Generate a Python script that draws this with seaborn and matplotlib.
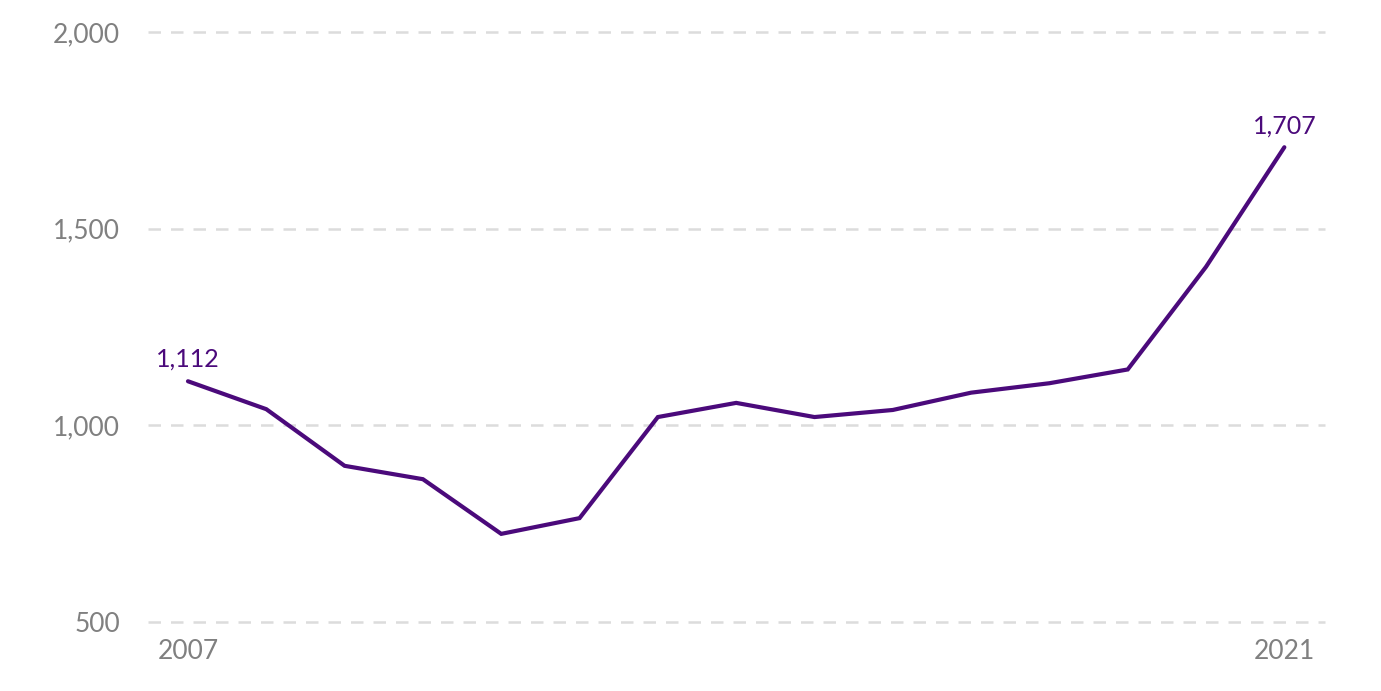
import matplotlib
matplotlib.use("Agg")
import matplotlib.pyplot as plt
import seaborn as sns
import pandas as pd

years = list(range(2007, 2022))
values = [1112, 1041, 897, 863, 724, 764, 1021, 1057, 1021, 1039, 1083, 1107, 1142, 1403, 1707]
y_ticks = [500, 1000, 1500, 2000]
x_ticks = [2007, 2021]

line_color = "#4b0a7b"
grey = "#808080"

sns.set_theme(style="white")
plt.rcParams['font.family'] = ['Lato', 'DejaVu Sans']

df = pd.DataFrame({"year": years, "value": values})

fig = plt.figure(figsize=(13.81, 6.91), dpi=100)
ax = fig.add_axes([0.1072, 0.0999, 0.8523, 0.8538])

for t in y_ticks:
    ax.axhline(t, color="#dcdcdc", lw=1.8, ls=(0, (5, 4)), zorder=0, clip_on=False)

sns.lineplot(data=df, x="year", y="value", ax=ax, color=line_color, lw=3,
             solid_capstyle="round", solid_joinstyle="miter")

ax.set_xlim(2006.49, 2021.52)
ax.set_ylim(500, 2000)
ax.set_yticks(y_ticks)
ax.set_yticklabels([f"{t:,}" for t in y_ticks])
ax.set_xticks(x_ticks)
ax.set_xticklabels([str(t) for t in x_ticks])
ax.tick_params(axis="both", length=0, labelsize=19, colors=grey)
ax.tick_params(axis="y", pad=20)
ax.tick_params(axis="x", pad=12)
ax.set_xlabel("")
ax.set_ylabel("")
sns.despine(ax=ax, left=True, bottom=True)

# end labels
ax.annotate(f"{values[0]:,}", (years[0], values[0]), xytext=(0, 8),
            textcoords="offset points", ha="center", va="bottom",
            color=line_color, fontsize=18)
ax.annotate(f"{values[-1]:,}", (years[-1], values[-1]), xytext=(0, 7),
            textcoords="offset points", ha="center", va="bottom",
            color=line_color, fontsize=18)

fig.savefig("out.png", dpi=100)
